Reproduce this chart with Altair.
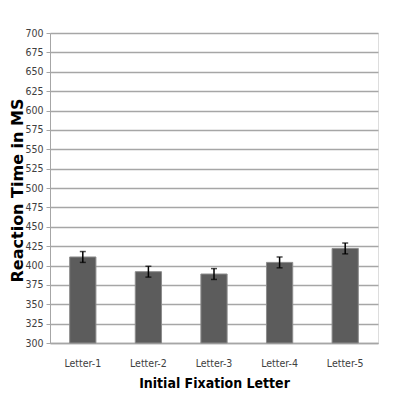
import altair as alt
import pandas as pd

letters = ["Letter-1", "Letter-2", "Letter-3", "Letter-4", "Letter-5"]
means = [411, 392, 389, 404, 422]
errors = [7, 7, 7, 7, 7]
y_ticks = list(range(300, 701, 25))

df = pd.DataFrame({"letter": letters, "mean": means, "err": errors})
df["lo"] = df["mean"] - df["err"]
df["hi"] = df["mean"] + df["err"]
df["base"] = 300

narrow = "DejaVu Sans Condensed"

x_axis = alt.Axis(
    title="Initial Fixation Letter",
    labelAngle=0,
    labelFont=narrow,
    labelFontSize=10.5,
    labelColor="#404040",
    labelPadding=15,
    ticks=False,
    domainColor="#a6a6a6",
    domainWidth=1.5,
    titleFont=narrow,
    titleFontSize=14,
    titleFontWeight="bold",
    titleColor="#000000",
    titlePadding=8,
)
y_axis = alt.Axis(
    values=y_ticks,
    title="Reaction Time in MS",
    titleFont="DejaVu Sans",
    titleFontSize=16,
    titleFontWeight="bold",
    titleColor="#000000",
    titleAngle=270,
    titleX=-33,
    titleY=157,
    titleAlign="center",
    titleBaseline="middle",
    labelFont=narrow,
    labelFontSize=10.5,
    labelColor="#404040",
    labelPadding=3,
    tickSize=4,
    tickColor="#a6a6a6",
    domainColor="#a6a6a6",
    gridColor="#a6a6a6",
    gridWidth=1.5,
)
x_scale = alt.Scale(paddingInner=0.6, paddingOuter=0.3)
y_scale = alt.Scale(domain=[300, 700], nice=False, zero=False)


def xenc():
    return alt.X("letter:N", sort=letters, scale=x_scale, axis=x_axis)


def yenc(field):
    return alt.Y(field, type="quantitative", scale=y_scale, axis=y_axis)


bars = alt.Chart(df).mark_bar(
    color="#5c5c5c", stroke="#8c8c8c", strokeWidth=1
).encode(x=xenc(), y=yenc("mean"), y2="base:Q")

rules = alt.Chart(df).mark_rule(color="#000000", strokeWidth=1.5).encode(
    x=xenc(), y=yenc("lo"), y2="hi:Q"
)
cap_lo = alt.Chart(df).mark_tick(
    color="#000000", thickness=1.5, size=6, orient="horizontal"
).encode(x=xenc(), y=yenc("lo"))
cap_hi = alt.Chart(df).mark_tick(
    color="#000000", thickness=1.5, size=6, orient="horizontal"
).encode(x=xenc(), y=yenc("hi"))

chart = (
    alt.layer(bars, rules, cap_lo, cap_hi)
    .properties(
        width=328,
        height=310,
        autosize=alt.AutoSizeParams(type="none"),
        padding={"left": 42, "top": 25, "right": 20, "bottom": 50},
    )
    .configure_view(stroke=None)
    .configure(background="#ffffff")
)

chart.save("out.html", embed_options={"renderer": "svg", "actions": False})
